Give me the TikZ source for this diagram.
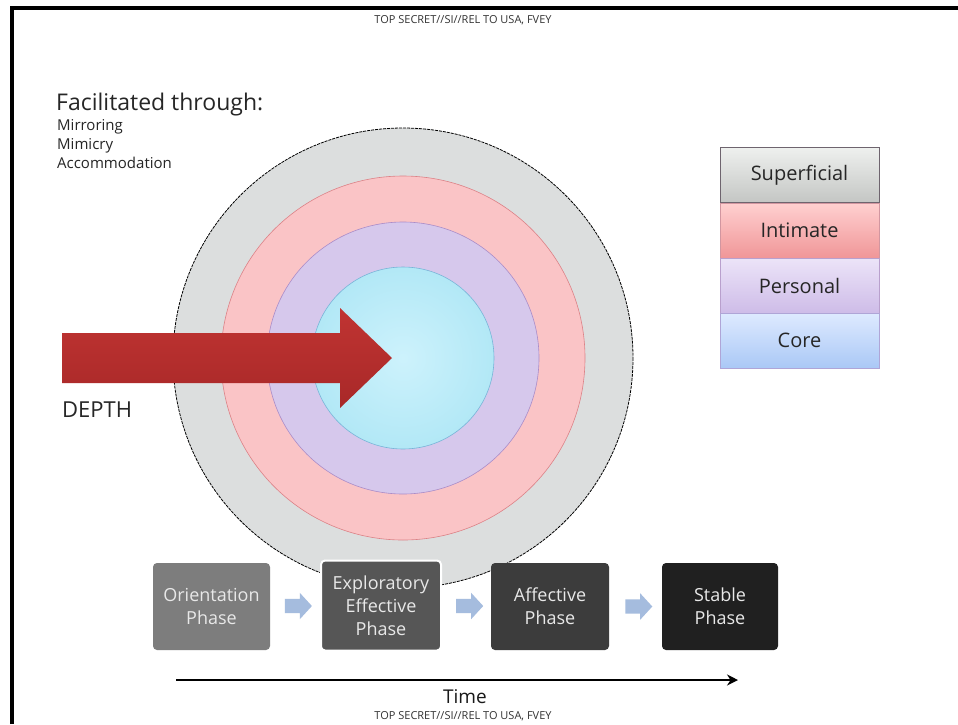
\documentclass[tikz,border=0pt]{standalone}
\usepackage{fontspec}
\setmainfont{Open Sans}
\usetikzlibrary{shapes.arrows,arrows.meta,calc}
\definecolor{ringgray}{RGB}{220,222,222}
\definecolor{ringpink}{RGB}{250,196,198}
\definecolor{ringpurple}{RGB}{214,200,236}
\definecolor{ringcyan}{RGB}{178,232,246}
\definecolor{ringcyanin}{RGB}{205,242,252}
\definecolor{pinkline}{RGB}{220,130,135}
\definecolor{purpleline}{RGB}{170,140,200}
\definecolor{cyanline}{RGB}{120,180,215}
\definecolor{arrowred}{RGB}{192,52,50}
\definecolor{arrowreddark}{RGB}{168,40,40}
\definecolor{smallarrow}{RGB}{165,188,222}
\definecolor{phasetext}{RGB}{232,232,232}
\definecolor{supdraw}{RGB}{110,100,110}
\definecolor{suptop}{RGB}{238,240,238}
\definecolor{supbot}{RGB}{196,198,196}
\definecolor{intdraw}{RGB}{210,150,160}
\definecolor{inttop}{RGB}{255,208,208}
\definecolor{intbot}{RGB}{240,150,152}
\definecolor{perdraw}{RGB}{185,160,205}
\definecolor{pertop}{RGB}{236,228,248}
\definecolor{perbot}{RGB}{206,188,232}
\definecolor{cordraw}{RGB}{175,165,215}
\definecolor{cortop}{RGB}{222,234,255}
\definecolor{corbot}{RGB}{170,200,246}
\definecolor{phaseA}{RGB}{125,125,125}
\definecolor{phaseB}{RGB}{86,86,86}
\definecolor{phaseC}{RGB}{60,60,60}
\definecolor{phaseD}{RGB}{32,32,32}
\tikzset{
  ring/.style={line width=0.6pt},
  legendbox/.style={draw=#1, line width=0.8pt, minimum width=159pt, minimum height=55pt, inner sep=0pt, font=\fontsize{20}{24}\selectfont, text=black!85},
  phasebox/.style={rounded corners=4pt, inner sep=0pt, text=phasetext, font=\fontsize{18}{23}\selectfont, align=center, minimum height=87pt},
  flowarrow/.style={single arrow, fill=smallarrow, draw=none, minimum height=27pt, inner xsep=0pt, inner ysep=7pt, single arrow head extend=6pt, single arrow tip angle=95},
  classif/.style={font=\fontsize{11}{12}\selectfont, text=black!80}
}
\begin{document}
\begin{tikzpicture}[x=1pt,y=-1pt]
\useasboundingbox (0,0) rectangle (958,724);
\fill[white] (0,0) rectangle (958,724);
% frame
\draw[line width=4pt] (11.5,724) -- (11.5,8) -- (958,8);
% classification
\node[classif] (ctop) at (463,20) {TOP SECRET//SI//REL TO USA, FVEY};
\node[classif] (cbot) at (463,716) {TOP SECRET//SI//REL TO USA, FVEY};
% facilitated
\node[anchor=west, inner sep=0pt, font=\fontsize{23}{26}\selectfont, text=black!85] (fac) at (56,105) {Facilitated through:};
\node[anchor=north west, inner sep=0pt, align=left, font=\fontsize{15}{19}\selectfont, text=black!85] (facl) at (57,119) {Mirroring\\Mimicry\\Accommodation};
% rings
\coordinate (c) at (403,358);
\fill[ringgray] (c) circle[radius=230];
\draw[dashed, dash pattern=on 3pt off 1pt, line width=0.8pt] (c) circle[radius=230];
\fill[ringpink] (c) circle[radius=182];
\draw[ring, draw=pinkline] (c) circle[radius=182];
\fill[ringpurple] (c) circle[radius=136];
\draw[ring, draw=purpleline] (c) circle[radius=136];
\shade[inner color=ringcyanin, outer color=ringcyan] (c) circle[radius=91];
\draw[ring, draw=cyanline] (c) circle[radius=91];
% depth arrow
\shade[top color=arrowred, bottom color=arrowreddark] (62,333) -- (340,333) -- (340,308) -- (392,358) -- (340,408) -- (340,383) -- (62,383) -- cycle;
\node[anchor=west, inner sep=0pt, font=\fontsize{22}{24}\selectfont, text=black!85] (depth) at (62,410) {DEPTH};
% legend
\node[legendbox=supdraw, top color=suptop, bottom color=supbot] (sup) at (799.5,175) {Superficial};
\node[legendbox=intdraw, top color=inttop, bottom color=intbot] (int) at (799.5,230.5) {Intimate};
\node[legendbox=perdraw, top color=pertop, bottom color=perbot] (per) at (799.5,285.5) {Personal};
\node[legendbox=cordraw, top color=cortop, bottom color=corbot] (cor) at (799.5,340.5) {Core};
% phases
\node[phasebox, fill=phaseA, minimum width=117pt] (p1) at (211.5,606.5) {Orientation\\Phase};
\node[phasebox, fill=phaseB, draw=white, line width=2pt, minimum width=120pt, minimum height=90pt] (p2) at (381,605.5) {Exploratory\\Effective\\Phase};
\node[phasebox, fill=phaseC, minimum width=118pt] (p3) at (550,606.5) {Affective\\Phase};
\node[phasebox, fill=phaseD, minimum width=116pt] (p4) at (720,606.5) {Stable\\Phase};
\node[flowarrow] (a1) at ($(p1.east)!0.5!(p2.west)$) {};
\node[flowarrow] (a2) at ($(p2.east)!0.5!(p3.west)$) {};
\node[flowarrow] (a3) at ($(p3.east)!0.5!(p4.west)$) {};
% time
\coordinate (t0) at (176,680);
\coordinate (t1) at (738,680);
\draw[line width=2.4pt, -{Stealth[length=11pt,width=11pt]}] (t0) -- (t1);
\node[inner sep=0pt, font=\fontsize{19}{22}\selectfont, text=black!90] (time) at (465,697) {Time};
\end{tikzpicture}
\end{document}
